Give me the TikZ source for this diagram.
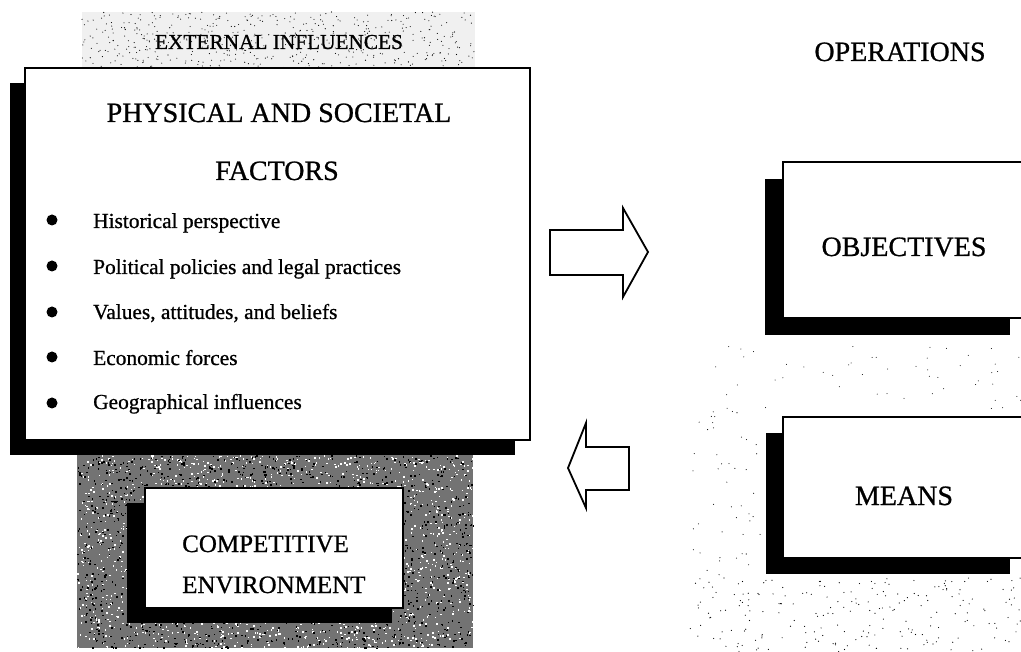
\documentclass[tikz,border=0pt]{standalone}
\usepackage{fontspec}
\setmainfont{Liberation Serif}[FakeBold=0.8]
\begin{document}
\begin{tikzpicture}[x=1pt,y=-1pt,
  box/.style={draw=black, line width=1.6pt, fill=white, inner sep=0pt},
  bigtxt/.style={font=\fontsize{28}{32}\selectfont, inner sep=0pt, anchor=base},
  midtxt/.style={font=\fontsize{25}{30}\selectfont, inner sep=0pt, anchor=base west},
  itemtxt/.style={font=\fontsize{21.4}{26}\selectfont, inner sep=0pt, anchor=base west},
  bandtxt/.style={font=\fontsize{21.3}{26}\selectfont, inner sep=0pt, anchor=base},
  bulletdot/.style={circle, fill=black, minimum size=11pt, inner sep=0pt},
  blockarrow/.style={draw=black, line width=1.8pt, fill=white, line join=miter},
  speck/.style={fill=black}
]
\useasboundingbox (0,0) rectangle (1021,652);
\clip (0,0) rectangle (1021,652);
\fill[white] (0,0) rectangle (1021,652);
\pgfmathsetseed{7}

% external influences band (light stipple)
\fill[black!6] (82,12) rectangle (475,68);
\foreach \i in {1,...,500} {\fill[speck] ({82+393*rnd},{12+56*rnd}) circle (0.55);}

% competitive environment texture
\fill[black!55] (77,455) rectangle (473,648);
\foreach \i in {1,...,1800} {\fill[white] ({77+396*rnd},{455+193*rnd}) rectangle +(1.5,1.5);}
\foreach \i in {1,...,1800} {\fill[black] ({77+396*rnd},{455+193*rnd}) rectangle +(1.5,1.5);}

% light stipple on right
\foreach \i in {1,...,220} {\fill[speck] ({690+331*rnd},{578+74*rnd}) circle (0.6);}
\foreach \i in {1,...,50} {\fill[speck] ({700+321*rnd},{345+65*rnd}) circle (0.5);}
\foreach \i in {1,...,45} {\fill[speck] ({690+75*rnd},{410+165*rnd}) circle (0.55);}

% main box with shadow
\fill[black] (10,83) rectangle (515,455);
\node[box, minimum width=505pt, minimum height=372pt] (phys) at (277.5,254) {};

% competitive box with shadow
\fill[black] (127,503) rectangle (392,623);
\node[box, minimum width=258pt, minimum height=120pt] (comp) at (274,548) {};

% objectives box with shadow
\fill[black] (765,179) rectangle (1010,335);
\node[box, minimum width=250pt, minimum height=156pt] (obj) at (908,240) {};

% means box with shadow
\fill[black] (766,433) rectangle (1010,574);
\node[box, minimum width=250pt, minimum height=141pt] (means) at (908,487.5) {};

% texts
\node[bandtxt] (ext) at (279,49) {EXTERNAL INFLUENCES};
\node[bigtxt] (t1) at (279,122) {PHYSICAL AND SOCIETAL};
\node[bigtxt] (t2) at (277,180) {FACTORS};
\node[bigtxt] (ops) at (900,61) {OPERATIONS};
\node[bigtxt] (objt) at (904,256) {OBJECTIVES};
\node[bigtxt] (meanst) at (904,505) {MEANS};
\node[midtxt] (c1) at (182,552) {COMPETITIVE};
\node[midtxt] (c2) at (182,593) {ENVIRONMENT};

% bullet list
\node[bulletdot] (b1) at (52,220) {};
\node[bulletdot] (b2) at (52,266) {};
\node[bulletdot] (b3) at (52,312) {};
\node[bulletdot] (b4) at (52,357) {};
\node[bulletdot] (b5) at (52,403) {};
\node[itemtxt] (i1) at (93,228) {Historical perspective};
\node[itemtxt] (i2) at (93,274) {Political policies and legal practices};
\node[itemtxt] (i3) at (93,319) {Values, attitudes, and beliefs};
\node[itemtxt] (i4) at (93,365) {Economic forces};
\node[itemtxt] (i5) at (93,409) {Geographical influences};

% block arrows
\draw[blockarrow] (550,230) -- (623,230) -- (623,208) -- (648,252) -- (623,297) -- (623,275) -- (550,275) -- cycle;
\draw[blockarrow] (629,447) -- (586,447) -- (586,423) -- (568,468) -- (586,508) -- (586,490) -- (629,490) -- cycle;
\end{tikzpicture}
\end{document}
